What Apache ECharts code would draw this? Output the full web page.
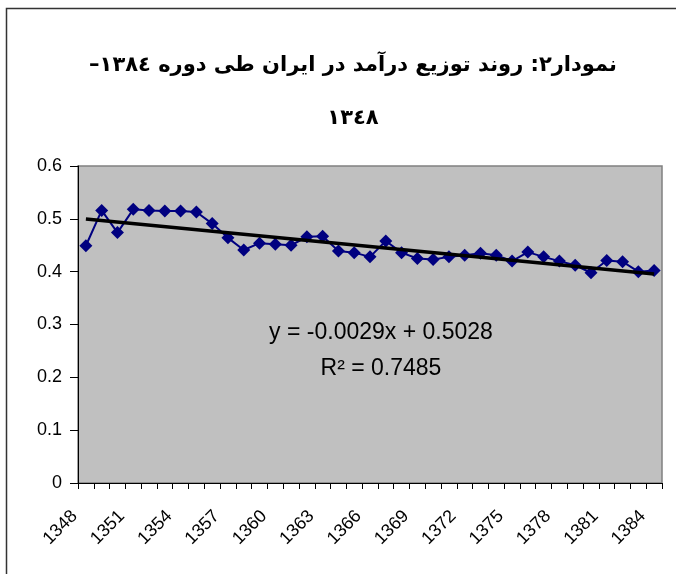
<!DOCTYPE html>
<html lang="fa">
<head>
<meta charset="utf-8" />
<title>نمودار۲</title>
<style>
  html, body { margin: 0; padding: 0; background: #fff; }
  #main { width: 676px; height: 574px; }
</style>
</head>
<body>
<div id="main"></div>
<script src="https://cdn.jsdelivr.net/npm/echarts@6/dist/echarts.min.js"></script>
<script>
// سال‌ها
const years = ['1348','1349','1350','1351','1352','1353','1354','1355','1356','1357',
  '1358','1359','1360','1361','1362','1363','1364','1365','1366','1367',
  '1368','1369','1370','1371','1372','1373','1374','1375','1376','1377',
  '1378','1379','1380','1381','1382','1383','1384'];
// ضریب جینی (خوانده شده از تصویر)
const gini = [0.449,0.516,0.474,0.518,0.516,0.515,0.515,0.513,0.491,0.464,
  0.441,0.454,0.452,0.450,0.466,0.467,0.439,0.436,0.428,0.458,
  0.436,0.425,0.423,0.428,0.431,0.435,0.431,0.420,0.437,0.428,
  0.420,0.412,0.398,0.421,0.419,0.400,0.402];
// خط روند: دو سر خط
const trendEnds = [['1348', 0.4999], ['1384', 0.3955]];
const yTicks = [0, 0.1, 0.2, 0.3, 0.4, 0.5, 0.6];
const titleLine1 = 'نمودار٢: روند توزیع درآمد در ایران طی دوره ١٣٨٤–\u200F';
const titleLine2 = '١٣٤٨';
const eqText = 'y = -0.0029x + 0.5028';
const r2Text = 'R² = 0.7485';

const chart = echarts.init(document.getElementById('main'), null, {renderer: 'canvas'});
const option = {
  backgroundColor: '#fff',
  animation: false,
  title: {
    text: titleLine1 + '\n' + titleLine2,
    left: 348,
    textAlign: 'center',
    top: 34,
    textStyle: {
      fontFamily: 'DejaVu Sans',
      fontWeight: 'bold',
      fontSize: 21,
      lineHeight: 53,
      color: '#000'
    }
  },
  graphic: [
    { // قاب بیرونی
      type: 'rect',
      shape: {x: 6.5, y: 8.5, width: 720, height: 620},
      style: {fill: null, stroke: '#333', lineWidth: 1.5},
      silent: true
    },
    {
      type: 'text',
      x: 381, y: 333,
      style: {text: eqText, font: '23px "Liberation Sans", Arial', fill: '#000',
        textAlign: 'center', textVerticalAlign: 'middle'},
      z: 10
    },
    {
      type: 'text',
      x: 381, y: 369,
      style: {text: r2Text, font: '23px "Liberation Sans", Arial', fill: '#000',
        textAlign: 'center', textVerticalAlign: 'middle'},
      z: 10
    }
  ],
  grid: {
    left: 78, right: 14, top: 166, bottom: 91,
    show: true,
    backgroundColor: '#c0c0c0',
    borderColor: '#808080',
    borderWidth: 1.5
  },
  xAxis: {
    type: 'category',
    data: years,
    boundaryGap: true,
    axisLine: {lineStyle: {color: '#000', width: 1}},
    axisTick: {show: true, interval: 0, length: 6, lineStyle: {color: '#000'}},
    axisLabel: {
      interval: 2,
      rotate: 45,
      margin: 19,
      padding: [0, 16, 0, 0],
      fontFamily: '"Liberation Sans", Arial',
      fontSize: 18,
      color: '#000'
    },
    splitLine: {show: false}
  },
  yAxis: {
    type: 'value',
    min: yTicks[0],
    max: yTicks[yTicks.length - 1],
    interval: 0.1,
    axisLine: {show: true, lineStyle: {color: '#000', width: 1}},
    axisTick: {show: true, length: 8, lineStyle: {color: '#000'}},
    axisLabel: {
      margin: 16,
      fontFamily: '"Liberation Sans", Arial',
      fontSize: 18,
      color: '#000',
      formatter: function (v) { return String(Math.round(v * 10) / 10); }
    },
    splitLine: {show: false}
  },
  series: [
    {
      name: 'gini',
      type: 'line',
      data: gini,
      symbol: 'diamond',
      symbolSize: 13,
      showAllSymbol: true,
      lineStyle: {color: '#000080', width: 2},
      itemStyle: {color: '#000080'}
    },
    {
      name: 'trend',
      type: 'line',
      data: trendEnds,
      symbol: 'none',
      lineStyle: {color: '#000', width: 3.5},
      z: 5
    }
  ]
};
chart.setOption(option);
</script>
</body>
</html>
